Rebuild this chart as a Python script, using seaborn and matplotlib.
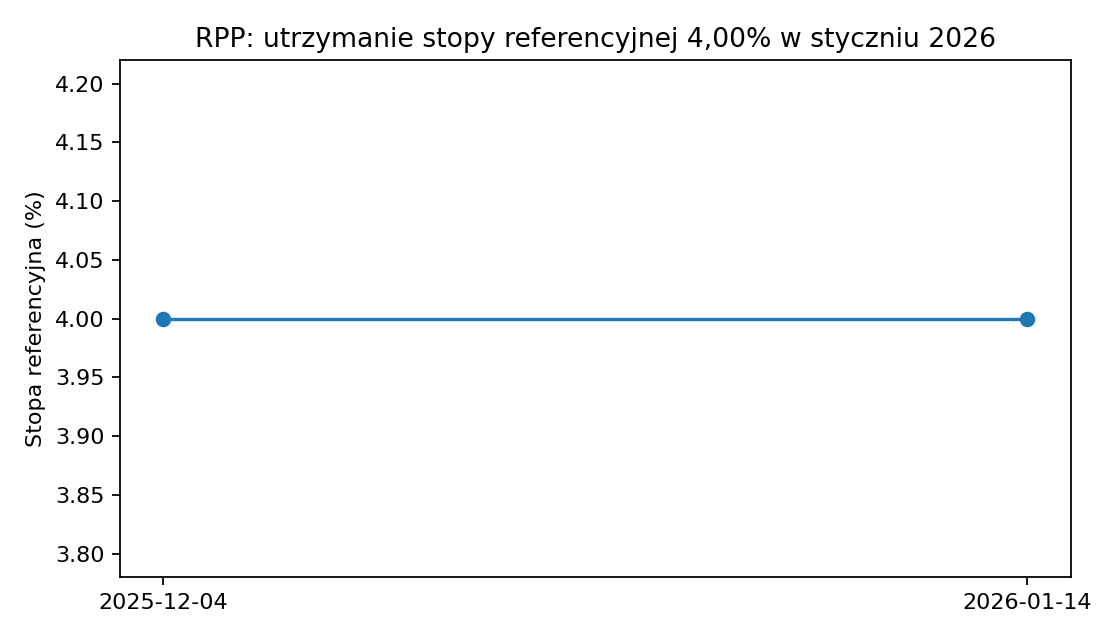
import matplotlib
matplotlib.use("Agg")
import matplotlib.pyplot as plt
import seaborn as sns
import pandas as pd

# dane: decyzje RPP
daty = ["2025-12-04", "2026-01-14"]
stopa = [4.00, 4.00]

df = pd.DataFrame({"data": daty, "stopa": stopa})

fig, ax = plt.subplots(figsize=(7, 4), dpi=160)
sns.lineplot(data=df, x="data", y="stopa", marker="o", markersize=7,
             markeredgewidth=0, color="#1f77b4", linewidth=1.5, ax=ax)

ax.set_ylim(3.78, 4.22)
ax.set_xlim(-0.05, 1.05)
ax.set_title("RPP: utrzymanie stopy referencyjnej 4,00% w styczniu 2026")
ax.set_xlabel("")
ax.set_ylabel("Stopa referencyjna (%)")

fig.subplots_adjust(left=0.107, right=0.956, top=0.906, bottom=0.098)
plt.savefig("out.png", dpi=160)
